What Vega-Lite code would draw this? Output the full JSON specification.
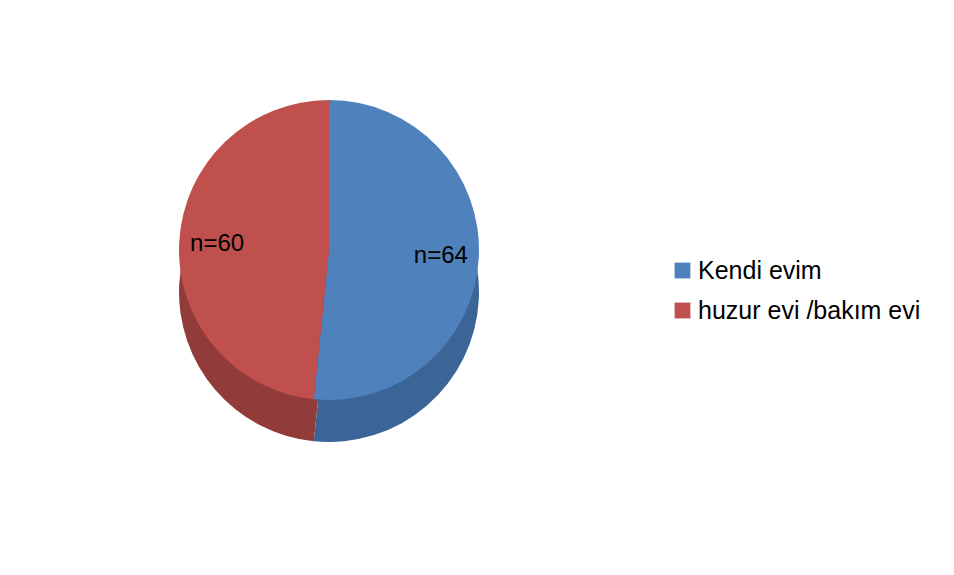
{
  "$schema": "https://vega.github.io/schema/vega-lite/v6.json",
  "width": 652,
  "height": 498,
  "autosize": "none",
  "padding": {"left": 3, "top": 1, "right": 299, "bottom": 76},
  "background": "white",
  "config": {"view": {"stroke": null}, "font": "Liberation Sans"},
  "data": {"values": [
    {"kategori": "Kendi evim", "n": 64, "etiket": "n=64"},
    {"kategori": "huzur evi /bakım evi", "n": 60, "etiket": "n=60"}
  ]},
  "encoding": {
    "theta": {"field": "n", "type": "quantitative", "stack": true},
    "order": {"field": "n", "sort": "descending"}
  },
  "layer": [
    {
      "mark": {"type": "arc", "outerRadius": 150, "yOffset": 42},
      "encoding": {
        "color": {"field": "kategori", "type": "nominal", "legend": null,
          "scale": {"domain": ["Kendi evim", "huzur evi /bakım evi"], "range": ["#3A6596", "#913C3A"]}}
      }
    },
    {
      "mark": {"type": "arc", "outerRadius": 150},
      "encoding": {
        "color": {"field": "kategori", "type": "nominal",
          "scale": {"domain": ["Kendi evim", "huzur evi /bakım evi"], "range": ["#4F81BD", "#C0504D"]},
          "legend": {"title": null, "orient": "none", "legendX": 667, "legendY": 257,
            "symbolType": "square", "symbolSize": 250, "symbolStrokeWidth": 0,
            "labelFontSize": 25, "labelColor": "#000000", "labelFont": "Liberation Sans",
            "rowPadding": 14, "labelOffset": 3, "labelLimit": 400}}
      }
    },
    {
      "mark": {"type": "text", "radius": 112, "fontSize": 24, "color": "#000000", "font": "Liberation Sans"},
      "encoding": {"text": {"field": "etiket"}}
    }
  ],
  "resolve": {"scale": {"color": "independent"}}
}
